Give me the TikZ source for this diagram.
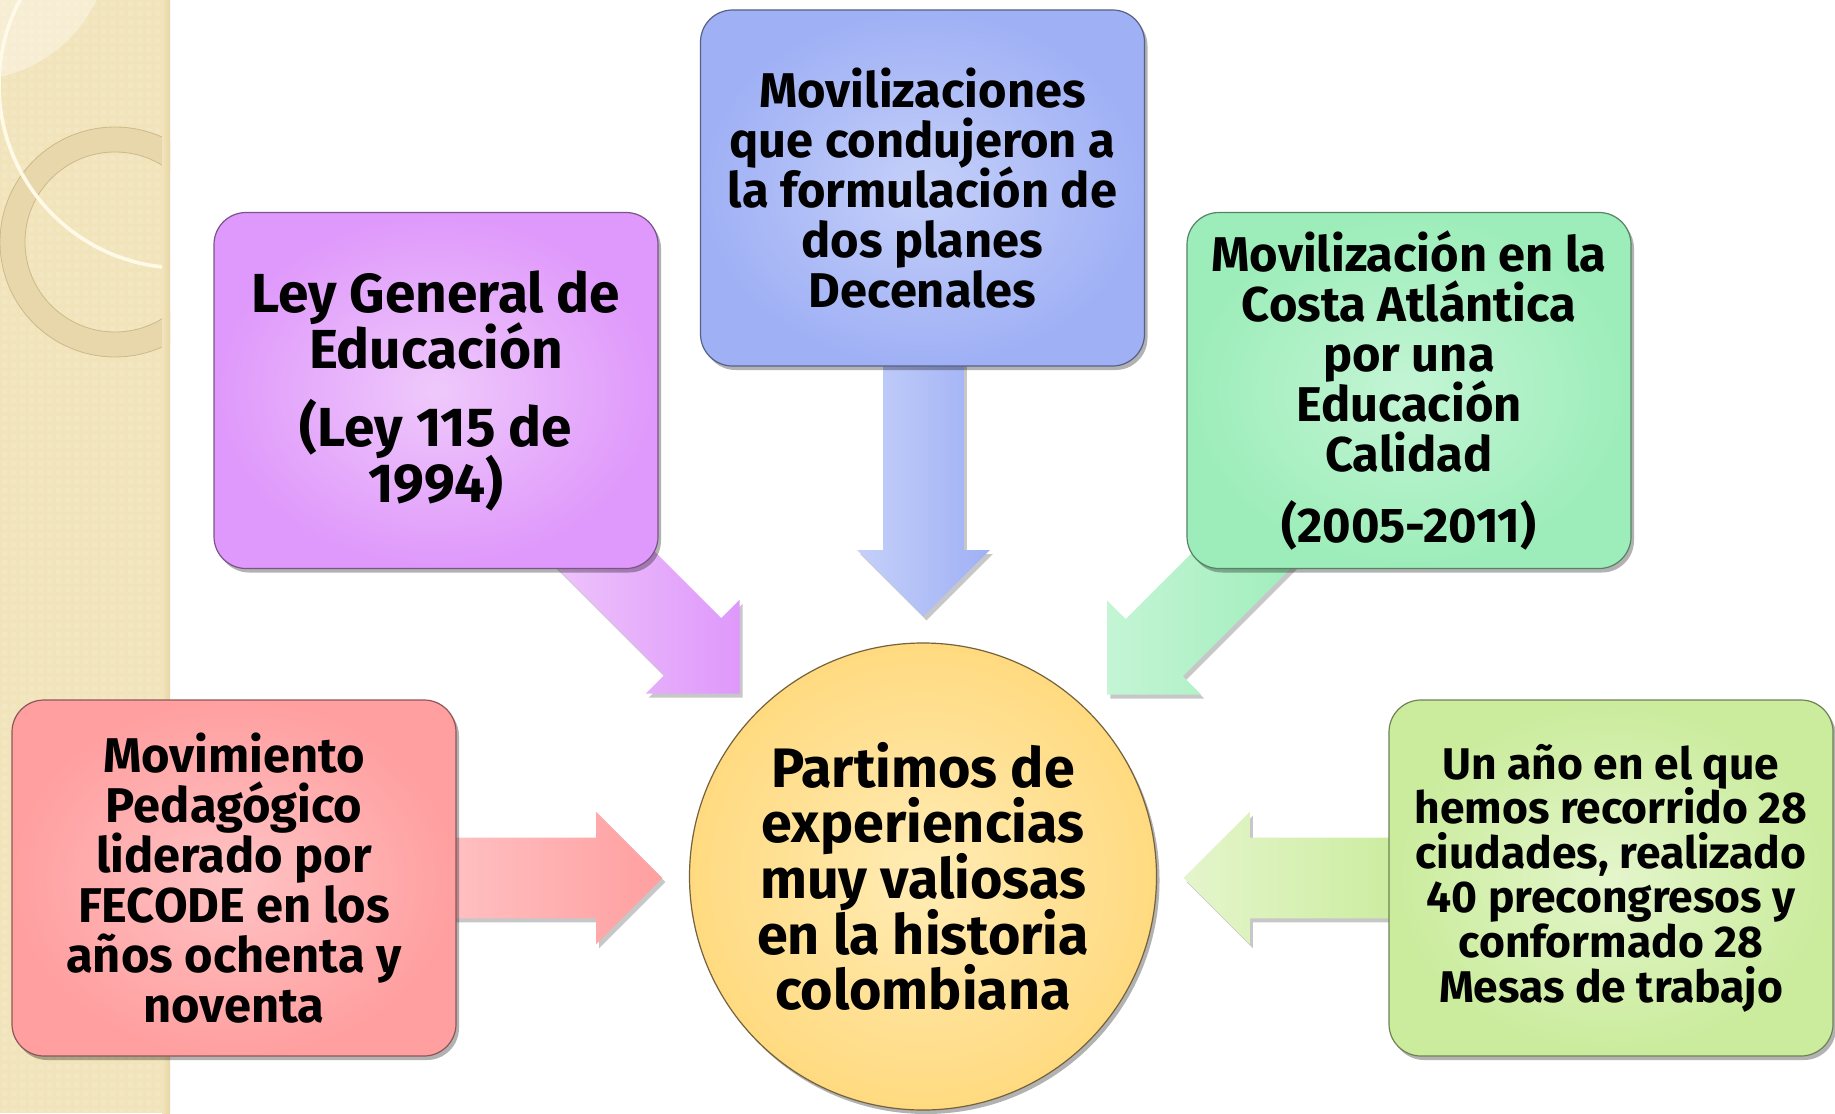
\documentclass[tikz,border=0pt]{standalone}
\usepackage{fontspec}
\setmainfont{Fira Sans}
\usetikzlibrary{shapes.arrows,shadows,calc}
\pgfdeclarelayer{back}
\pgfdeclarelayer{arrows}
\pgfsetlayers{back,arrows,main}
\newcommand\tightlines{\lineskiplimit=-50pt\relax}

\definecolor{stripfill}{HTML}{F2E4BA}
\definecolor{stripdark}{HTML}{E6D5A6}
\definecolor{ringfill}{HTML}{E6D4A6}
\definecolor{ringline}{HTML}{CDB98A}
\definecolor{creamline}{HTML}{FFF9E8}

\definecolor{pinkin}{HTML}{FFC3C4}
\definecolor{pinkout}{HTML}{FF9FA0}
\definecolor{purin}{HTML}{EFC9FB}
\definecolor{purout}{HTML}{DF98FB}
\definecolor{bluein}{HTML}{C5D0F9}
\definecolor{blueout}{HTML}{9FB0F5}
\definecolor{grnin}{HTML}{C4F5D5}
\definecolor{grnout}{HTML}{9CEDB9}
\definecolor{lgin}{HTML}{E4F5CB}
\definecolor{lgout}{HTML}{CAEC9C}
\definecolor{yelin}{HTML}{FFECB5}
\definecolor{yelout}{HTML}{FFDA80}

\tikzset{
  box/.style 2 args={rectangle, rounded corners=16pt, minimum width=222pt,
    minimum height=178pt, inner color=#1, outer color=#2,
    draw=#2!55!black, line width=0.6pt, align=center, inner sep=0pt,
    drop shadow={shadow xshift=1.5pt, shadow yshift=-2pt, opacity=.3, fill=black}},
  barrow/.style 2 args={single arrow, single arrow head extend=13pt,
    single arrow tip angle=90, inner sep=0pt, inner ysep=20pt, anchor=tip,
    left color=#1, right color=#2, draw=none,
    drop shadow={shadow xshift=1.5pt, shadow yshift=-2pt, opacity=.22, fill=black}},
  fbig/.style={font={\fontsize{27.5pt}{28pt}\selectfont\bfseries\tightlines}},
  fmid/.style={font={\fontsize{24.4pt}{25pt}\selectfont\bfseries\tightlines}},
  fsmall/.style={font={\fontsize{22.2pt}{22.3pt}\selectfont\bfseries\tightlines}},
  fcirc/.style={font={\fontsize{27.8pt}{27.8pt}\selectfont\bfseries\tightlines}},
}

\begin{document}
\begin{tikzpicture}[x=0.5pt,y=-0.5pt]
\useasboundingbox (0,0) rectangle (1835,1113);

% decorative strip
\begin{pgfonlayer}{back}
\fill[white] (0,0) rectangle (1835,1113);
\fill[stripfill] (0,0) rectangle (170,1113);
\begin{scope}
  \clip (0,0) rectangle (170,1113);
  \fill[white, opacity=.14] \foreach \i in {0,...,18} {\foreach \j in {0,...,123} {(\i*9+2,\j*9+2) rectangle ++(5,5)}};
  \fill[white, opacity=.35] (-30,-60) circle[radius=140];
  \fill[ringfill, opacity=.8, even odd rule] (115,242) circle[radius=115] (115,242) circle[radius=90];
  \draw[ringline, line width=0.4pt] (115,242) circle[radius=115] (115,242) circle[radius=90];
  \draw[creamline, line width=1.8pt] (182,85) circle[radius=183];
\end{scope}
\fill[left color=stripfill, right color=stripdark] (162,0) rectangle (170,1113);
\end{pgfonlayer}

% boxes
\node[box={pinkin}{pinkout}, fmid] (pink) at (234,878)
  {Movimiento\\Pedagógico\\liderado por\\FECODE en los\\años ochenta y\\noventa};
\node[box={purin}{purout}, fbig] (ley) at (436,390.5)
  {Ley General de\\Educación\\[11pt](Ley 115 de\\1994)};
\node[box={bluein}{blueout}, fmid] (movil) at (922.5,188)
  {Movilizaciones\\que condujeron a\\la formulación de\\dos planes\\Decenales};
\node[box={grnin}{grnout}, fmid] (costa) at (1409,390.5)
  {Movilización en la\\Costa Atlántica\\por una\\Educación\\Calidad\\[10.5pt](2005-2011)};
\node[box={lgin}{lgout}, fsmall] (anio) at (1611,878)
  {Un año en el que\\hemos recorrido 28\\ciudades, realizado\\40 precongresos y\\conformado 28\\Mesas de trabajo};
\node[circle, minimum size=233.5pt, inner sep=0pt, inner color=yelin, outer color=yelout,
  draw=yelout!45!black, line width=0.6pt, align=center, fcirc,
  drop shadow={shadow xshift=1.5pt, shadow yshift=-2pt, opacity=.3, fill=black}] (center) at (923,876.5)
  {Partimos de\\experiencias\\muy valiosas\\en la historia\\colombiana};

% block arrows (tip placed at the given point)
\begin{pgfonlayer}{arrows}
\node[barrow={pinkin}{pinkout}, minimum height=116.5pt] (a1) at (663,878) {};
\node[barrow={purin}{purout}, minimum height=127.3pt, rotate=-45] (a2) at (740,694) {};
\node[barrow={bluein}{blueout}, minimum height=143.5pt, rotate=-90] (a3) at (923.5,617) {};
\node[barrow={grnin}{grnout}, minimum height=127.3pt, rotate=-135] (a4) at (1107,695) {};
\node[barrow={lgin}{lgout}, minimum height=116pt, rotate=180] (a5) at (1183,878) {};
\end{pgfonlayer}
\end{tikzpicture}
\end{document}
